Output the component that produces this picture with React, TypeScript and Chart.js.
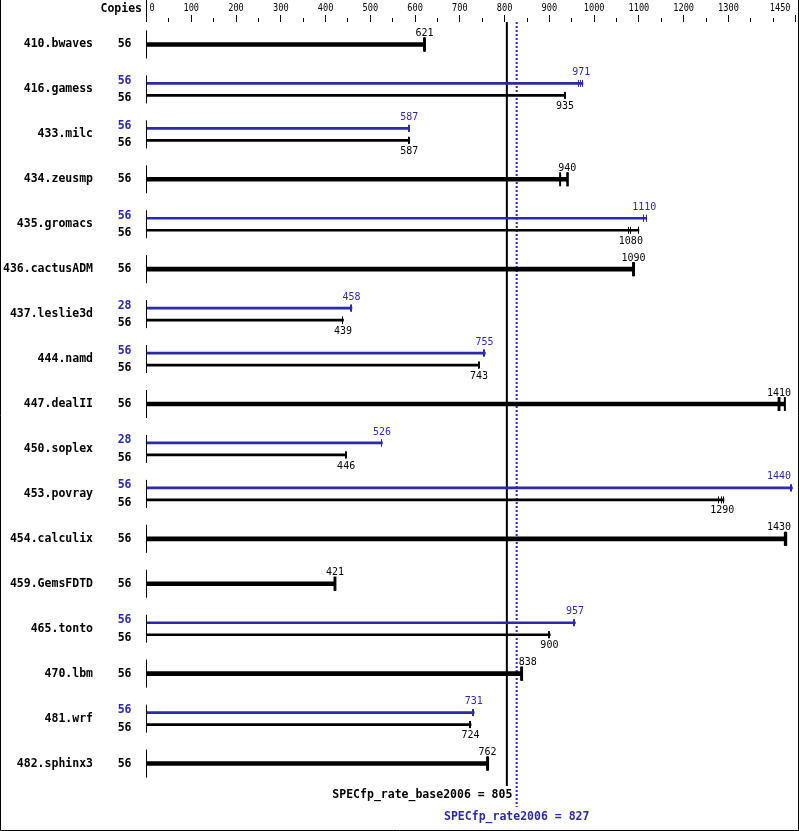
import React, { useEffect, useRef } from "react";
import { Chart, registerables } from "chart.js";

Chart.register(...registerables);

const benchmarks = [
  "410.bwaves", "416.gamess", "433.milc", "434.zeusmp", "435.gromacs", "436.cactusADM",
  "437.leslie3d", "444.namd", "447.dealII", "450.soplex", "453.povray", "454.calculix",
  "459.GemsFDTD", "465.tonto", "470.lbm", "481.wrf", "482.sphinx3",
];
const baseCopies = [56, 56, 56, 56, 56, 56, 56, 56, 56, 56, 56, 56, 56, 56, 56, 56, 56];
const peakCopies: (number | null)[] = [null, 56, 56, null, 56, null, 28, 56, null, 28, 56, null, null, 56, null, 56, null];
const baseRuns: number[][] = [
  [620, 621, 622],
  [934, 935, 936],
  [586, 587, 588],
  [924, 940, 941],
  [1078, 1082, 1100],
  [1087, 1088, 1089],
  [438, 439, 440],
  [742, 743, 744],
  [1412, 1414, 1426],
  [445, 446, 447],
  [1279, 1286, 1290],
  [1426, 1428, 1429],
  [420, 421, 422],
  [899, 900, 902],
  [837, 838, 839],
  [723, 724, 725],
  [761, 762, 763],
];
const peakRuns: (number[] | null)[] = [
  null,
  [967, 971, 975],
  [586, 587, 588],
  null,
  [1111, 1112, 1117],
  null,
  [457, 458, 459],
  [754, 755, 757],
  null,
  [525, 526, 527],
  [1440, 1441, 1443],
  null,
  null,
  [955, 957, 958],
  null,
  [730, 731, 732],
  null,
];
const axisTicks = [0, 50, 100, 150, 200, 250, 300, 350, 400, 450, 500, 550, 600, 650, 700, 750,
  800, 850, 900, 950, 1000, 1050, 1100, 1150, 1200, 1250, 1300, 1350, 1400, 1450];
const axisLabels = [0, 100, 200, 300, 400, 500, 600, 700, 800, 900, 1000, 1100, 1200, 1300, 1450];
const baseScore = 805;
const peakScore = 827;
const baseMetricName = "SPECfp_rate_base2006";
const peakMetricName = "SPECfp_rate2006";

const BLUE = "#2a2aaa";
const BLACK = "#000000";
const MONO = "'DejaVu Sans Mono', monospace";

const median = (a: number[]) => [...a].sort((p, q) => p - q)[Math.floor(a.length / 2)];
const fmt = (v: number) => String(Number(v.toPrecision(3)));

const singleData = benchmarks.map((_, i) => (peakRuns[i] ? null : Math.max(...baseRuns[i])));
const peakData = benchmarks.map((_, i) => (peakRuns[i] ? Math.max(...(peakRuns[i] as number[])) : null));
const baseData = benchmarks.map((_, i) => (peakRuns[i] ? Math.max(...baseRuns[i]) : null));

const decor = {
  id: "specDecor",
  beforeDatasetsDraw(chart: any) {
    const { ctx, chartArea, scales } = chart;
    const x = scales.x;
    const bx = x.getPixelForValue(baseScore);
    const px = x.getPixelForValue(peakScore);
    ctx.save();
    ctx.strokeStyle = BLACK;
    ctx.lineWidth = 2;
    ctx.beginPath();
    ctx.moveTo(bx, chartArea.top);
    ctx.lineTo(bx, chartArea.bottom);
    ctx.stroke();
    ctx.strokeStyle = BLUE;
    ctx.setLineDash([2, 2]);
    ctx.beginPath();
    ctx.moveTo(px, chartArea.top);
    ctx.lineTo(px, chartArea.bottom + 21);
    ctx.stroke();
    ctx.restore();
  },
  afterDatasetsDraw(chart: any) {
    const { ctx, chartArea, scales, width, height } = chart;
    const x = scales.x;
    const y = scales.y;
    const left = chartArea.left;
    const bx = x.getPixelForValue(baseScore);
    const px = x.getPixelForValue(peakScore);
    ctx.save();

    // border
    ctx.strokeStyle = BLACK;
    ctx.lineWidth = 1;
    ctx.beginPath();
    ctx.moveTo(0.5, 0);
    ctx.lineTo(0.5, height - 0.5);
    ctx.lineTo(width - 0.5, height - 0.5);
    ctx.lineTo(width - 0.5, 0);
    ctx.stroke();

    // header
    ctx.font = `bold 11.5px ${MONO}`;
    ctx.fillStyle = BLACK;
    ctx.textAlign = "right";
    ctx.textBaseline = "middle";
    ctx.fillText("Copies", 142, 9);
    ctx.beginPath();
    ctx.moveTo(Math.floor(left) + 0.5, 0);
    ctx.lineTo(Math.floor(left) + 0.5, chartArea.top);
    ctx.stroke();

    // axis ticks
    axisTicks.forEach((v) => {
      const tx = Math.floor(x.getPixelForValue(v)) + 0.5;
      const major = axisLabels.includes(v);
      ctx.beginPath();
      ctx.moveTo(tx, major ? chartArea.top - 7 : chartArea.top - 4);
      ctx.lineTo(tx, chartArea.top);
      ctx.stroke();
    });
    ctx.font = `10.5px ${MONO}`;
    ctx.textAlign = "left";
    const sx = 0.82;
    axisLabels.forEach((v) => {
      const t = String(v);
      const w = ctx.measureText(t).width * sx;
      let lx = x.getPixelForValue(v) - w / 2;
      lx = Math.max(lx, left + 3);
      lx = Math.min(lx, 790.5 - w);
      ctx.save();
      ctx.translate(lx, 8);
      ctx.scale(sx, 1);
      ctx.fillText(t, 0, 0);
      ctx.restore();
    });

    const metaS = chart.getDatasetMeta(0);
    const metaP = chart.getDatasetMeta(1);
    const metaB = chart.getDatasetMeta(2);

    const drawCaps = (runs: number[], cy: number, thick: boolean, color: string) => {
      ctx.strokeStyle = color;
      ctx.lineWidth = thick ? 2 : 1;
      const h = thick ? 7 : 3.5;
      runs.forEach((r) => {
        const rx = thick ? x.getPixelForValue(r) : Math.round(x.getPixelForValue(r)) - 0.5;
        ctx.beginPath();
        ctx.moveTo(rx, cy - h);
        ctx.lineTo(rx, cy + h);
        ctx.stroke();
      });
    };
    const drawLabel = (v: number, cy: number, color: string) => {
      ctx.font = `10px ${MONO}`;
      ctx.fillStyle = color;
      ctx.textAlign = "left";
      ctx.textBaseline = "middle";
      const t = fmt(v);
      const w = ctx.measureText(t).width;
      let lx = x.getPixelForValue(v) - w / 2;
      if (lx < px + 2 && lx + w > bx - 2) lx = px + 2;
      lx = Math.min(lx, 791 - w);
      ctx.fillText(t, lx, cy);
    };

    benchmarks.forEach((name, i) => {
      const cy = y.getPixelForValue(i);
      // row baseline tick
      ctx.strokeStyle = BLACK;
      ctx.lineWidth = 1;
      ctx.beginPath();
      ctx.moveTo(Math.floor(left) + 0.5, cy - 14);
      ctx.lineTo(Math.floor(left) + 0.5, cy + 14);
      ctx.stroke();

      ctx.font = `bold 11.5px ${MONO}`;
      ctx.fillStyle = BLACK;
      ctx.textAlign = "right";
      ctx.textBaseline = "middle";
      ctx.fillText(name, 93, cy);

      const pr = peakRuns[i];
      if (!pr) {
        ctx.fillText(String(baseCopies[i]), 131.5, cy);
        const el = metaS.data[i];
        drawCaps(baseRuns[i], el.y, true, BLACK);
        drawLabel(median(baseRuns[i]), el.y - 11, BLACK);
      } else {
        ctx.fillStyle = BLUE;
        ctx.fillText(String(peakCopies[i]), 131.5, cy - 8.5);
        ctx.fillStyle = BLACK;
        ctx.fillText(String(baseCopies[i]), 131.5, cy + 9);
        const ep = metaP.data[i];
        const eb = metaB.data[i];
        drawCaps(pr, ep.y, false, BLUE);
        drawCaps(baseRuns[i], eb.y, false, BLACK);
        drawLabel(median(pr), ep.y - 11, BLUE);
        drawLabel(median(baseRuns[i]), eb.y + 11, BLACK);
      }
    });

    // footer metrics
    ctx.font = `bold 11.5px ${MONO}`;
    ctx.textBaseline = "middle";
    ctx.fillStyle = BLACK;
    ctx.textAlign = "right";
    ctx.fillText(`${baseMetricName} = ${baseScore}`, bx + 5.5, chartArea.bottom + 9);
    ctx.fillStyle = BLUE;
    ctx.textAlign = "center";
    ctx.fillText(`${peakMetricName} = ${peakScore}`, px, chartArea.bottom + 31);

    ctx.restore();
  },
};

export default function App() {
  const ref = useRef<HTMLCanvasElement | null>(null);
  useEffect(() => {
    if (!ref.current) return;
    const chart = new Chart(ref.current, {
      type: "bar",
      data: {
        labels: benchmarks,
        datasets: [
          { label: "single", data: singleData as any, backgroundColor: BLACK, barThickness: 4, skipNull: true } as any,
          { label: "peak", data: peakData as any, backgroundColor: BLUE, barThickness: 12, maxBarThickness: 2, skipNull: true } as any,
          { label: "base", data: baseData as any, backgroundColor: BLACK, barThickness: 12, maxBarThickness: 2, skipNull: true } as any,
        ],
      },
      options: {
        indexAxis: "y",
        responsive: false,
        animation: false,
        devicePixelRatio: 1,
        layout: { padding: { left: 146.5, right: 3.4, top: 22, bottom: 45 } },
        scales: {
          x: { type: "linear", min: 0, max: 1450, display: false },
          y: { type: "category", display: false, offset: true },
        },
        plugins: { legend: { display: false }, tooltip: { enabled: false } },
        events: [],
      },
      plugins: [decor],
    });
    return () => chart.destroy();
  }, []);
  return (
    <div style={{ position: "absolute", left: 0, top: 0, width: 799, height: 831, background: "#fff" }}>
      <canvas ref={ref} width={799} height={831} style={{ display: "block" }} />
    </div>
  );
}
